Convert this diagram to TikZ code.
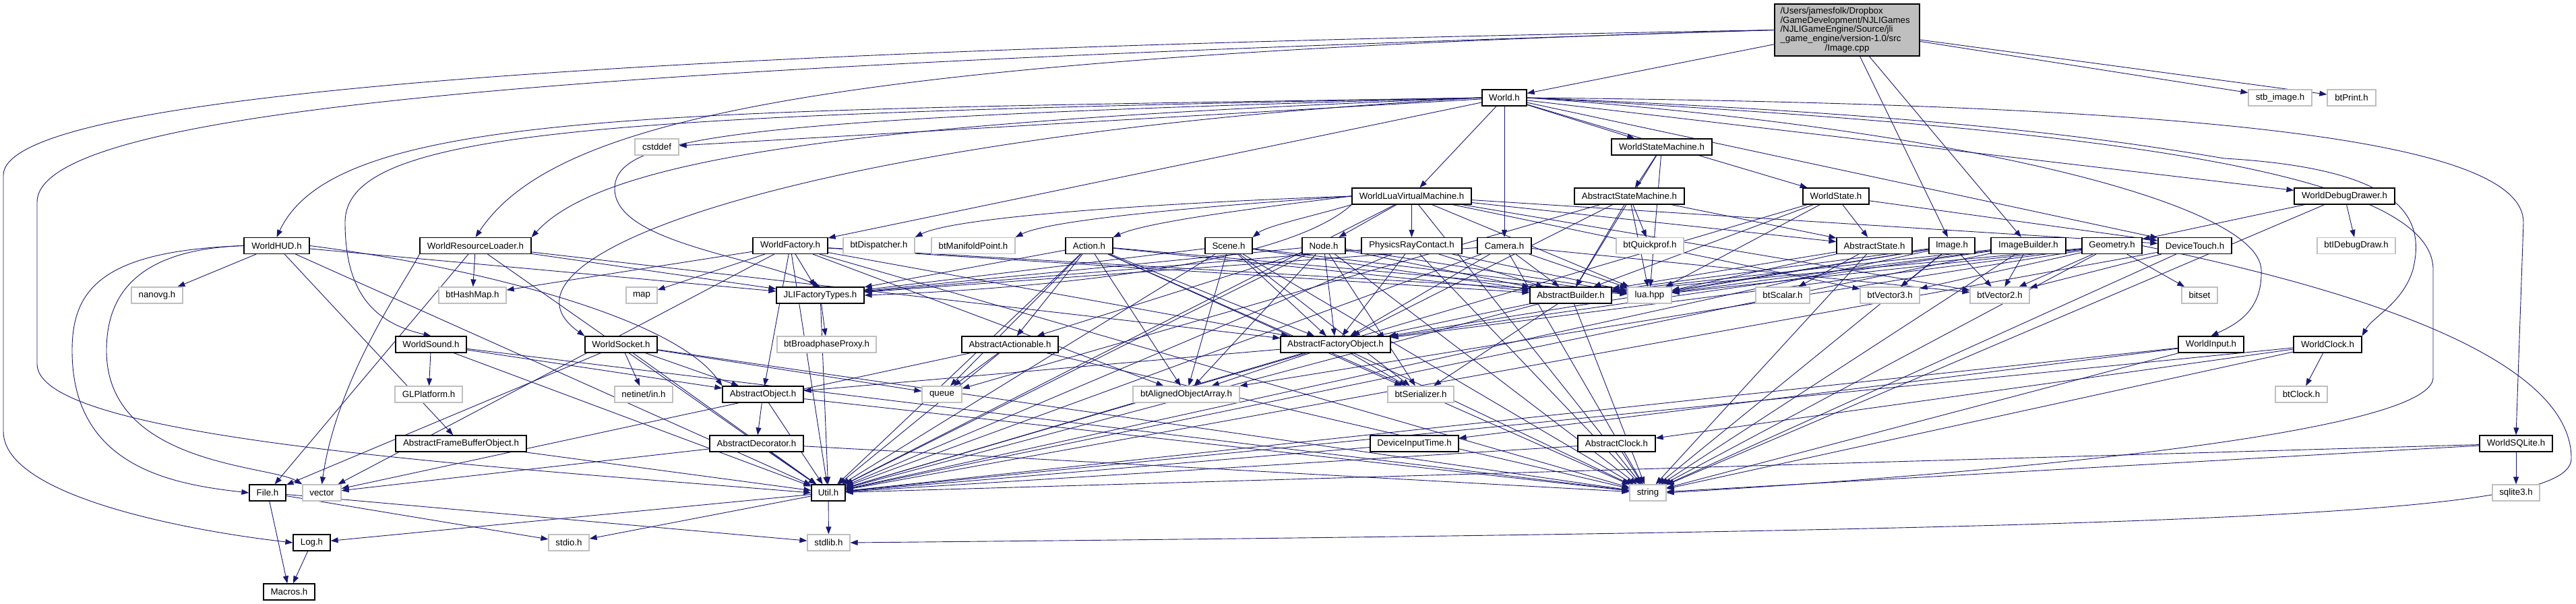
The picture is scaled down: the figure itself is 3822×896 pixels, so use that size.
\documentclass[tikz,border=0pt]{standalone}
\usepackage{fontspec}
\setmainfont{Liberation Sans}
\usetikzlibrary{arrows.meta}
\definecolor{edgeblue}{HTML}{191970}
\definecolor{extgray}{HTML}{BFBFBF}
\pgfdeclarelayer{bg}
\pgfsetlayers{bg,main}
\begin{document}
\begin{tikzpicture}[x=1pt,y=-1pt,
  every node/.style={font=\fontsize{13.3}{13.8}\selectfont},
  base/.style={rectangle, inner sep=0pt, minimum height=24pt, line width=1.2pt, fill=white, text=black},
  intn/.style={base, draw=black},
  extn/.style={base, draw=extgray},
  rootn/.style={rectangle, draw=black, fill=extgray, line width=1.2pt, text width=198pt, inner xsep=8.5pt, minimum height=77pt, align=left},
  edge/.style={draw=edgeblue, line width=0.9pt, -{Triangle[length=11pt,width=8pt]}}]
\useasboundingbox (0,0) rectangle (3822,896);
% row 0
\node[rootn] (root) at (2740.5,44.5) {/Users/jamesfolk/Dropbox\\/GameDevelopment/NJLIGames\\/NJLIGameEngine/Source/jli\\\_game\_engine/version-1.0/src\\\hspace*{\fill}/Image.cpp\hspace*{\fill}\null};
% row 1
\node[intn, minimum width=66pt] (World) at (2232,145) {World.h};
\node[extn, minimum width=94pt] (stb) at (3383,145) {stb\_image.h};
\node[extn, minimum width=72pt] (btPrint) at (3489,145) {btPrint.h};
% row 2
\node[extn, minimum width=65pt] (cstddef) at (974.5,218) {cstddef};
\node[intn, minimum width=149pt] (WSM) at (2465.5,218) {WorldStateMachine.h};
% row 3
\node[intn, minimum width=177pt] (WLVM) at (2094.5,291) {WorldLuaVirtualMachine.h};
\node[intn, minimum width=163pt] (ASM) at (2417.5,291) {AbstractStateMachine.h};
\node[intn, minimum width=98pt] (WState) at (2724,291) {WorldState.h};
\node[intn, minimum width=149pt] (WDD) at (3478.5,291) {WorldDebugDrawer.h};
% row 4
\node[intn, minimum width=97pt] (WHUD) at (410.5,364.5) {WorldHUD.h};
\node[intn, minimum width=165pt] (WRL) at (705.5,364.5) {WorldResourceLoader.h};
\node[intn, minimum width=111pt] (WFactory) at (1172.5,364.5) {WorldFactory.h};
\node[extn, minimum width=106pt] (btDispatcher) at (1304,364.5) {btDispatcher.h};
\node[extn, minimum width=124pt] (btManifold) at (1444,364.5) {btManifoldPoint.h};
\node[intn, minimum width=70pt] (Action) at (1616,364.5) {Action.h};
\node[intn, minimum width=70pt] (Scene) at (1823,364.5) {Scene.h};
\node[intn, minimum width=64pt] (NodeH) at (1964,364.5) {Node.h};
\node[intn, minimum width=149pt] (PRC) at (2094.5,364.5) {PhysicsRayContact.h};
\node[intn, minimum width=80pt] (Camera) at (2232,364.5) {Camera.h};
\node[extn, minimum width=100pt] (btQuickprof) at (2448,364.5) {btQuickprof.h};
\node[intn, minimum width=112pt] (AState) at (2781,364.5) {AbstractState.h};
\node[intn, minimum width=68pt] (ImgH) at (2896,364.5) {Image.h};
\node[intn, minimum width=111pt] (ImgB) at (3009.5,364.5) {ImageBuilder.h};
\node[intn, minimum width=89pt] (Geometry) at (3133.5,364.5) {Geometry.h};
\node[intn, minimum width=109pt] (DevTouch) at (3256.5,364.5) {DeviceTouch.h};
\node[extn, minimum width=116pt] (btIDebugDraw) at (3496,364.5) {btIDebugDraw.h};
% row 5
\node[extn, minimum width=76pt] (nanovg) at (233,438) {nanovg.h};
\node[extn, minimum width=100pt] (btHashMap) at (701,438) {btHashMap.h};
\node[extn, minimum width=46pt] (map) at (952,438) {map};
\node[intn, minimum width=130pt] (JLIFT) at (1217,438) {JLIFactoryTypes.h};
\node[intn, minimum width=121pt] (ABuilder) at (2330.5,438) {AbstractBuilder.h};
\node[extn, minimum width=65pt] (lua) at (2447.5,438) {lua.hpp};
\node[extn, minimum width=80pt] (btScalar) at (2645,438) {btScalar.h};
\node[extn, minimum width=88pt] (btVector3) at (2804,438) {btVector3.h};
\node[extn, minimum width=88pt] (btVector2) at (2967,438) {btVector2.h};
\node[extn, minimum width=53pt] (bitset) at (3263.5,438) {bitset};
% row 6
\node[intn, minimum width=105pt] (WSound) at (639.5,511) {WorldSound.h};
\node[intn, minimum width=107pt] (WSocket) at (921.5,511) {WorldSocket.h};
\node[extn, minimum width=147pt] (btBroadphase) at (1226.5,511) {btBroadphaseProxy.h};
\node[intn, minimum width=143pt] (AActionable) at (1498.5,511) {AbstractActionable.h};
\node[intn, minimum width=163pt] (AFO) at (1981.5,511) {AbstractFactoryObject.h};
\node[intn, minimum width=97pt] (WInput) at (3280.5,511) {WorldInput.h};
\node[intn, minimum width=101pt] (WClock) at (3453.5,511) {WorldClock.h};
% row 7
\node[extn, minimum width=100pt] (GLPlatform) at (636,585) {GLPlatform.h};
\node[extn, minimum width=86pt] (netinet) at (955,585) {netinet/in.h};
\node[intn, minimum width=120pt] (AObject) at (1132,585) {AbstractObject.h};
\node[extn, minimum width=59pt] (queue) at (1397.5,585) {queue};
\node[extn, minimum width=158pt] (btAligned) at (1760,585) {btAlignedObjectArray.h};
\node[extn, minimum width=98pt] (btSerializer) at (2108,585) {btSerializer.h};
\node[extn, minimum width=77pt] (btClock) at (3414.5,585) {btClock.h};
% row 8
\node[intn, minimum width=194pt] (AFBO) at (684,658) {AbstractFrameBufferObject.h};
\node[intn, minimum width=139pt] (ADecorator) at (1122.5,658) {AbstractDecorator.h};
\node[intn, minimum width=131pt] (DevInputTime) at (2098.5,658) {DeviceInputTime.h};
\node[intn, minimum width=115pt] (AClock) at (2398.5,658) {AbstractClock.h};
\node[intn, minimum width=108pt] (WSQLite) at (3733,658) {WorldSQLite.h};
% row 9
\node[intn, minimum width=54pt] (File) at (397,731) {File.h};
\node[extn, minimum width=57pt] (vector) at (477.5,731) {vector};
\node[intn, minimum width=50pt] (Util) at (1229,731) {Util.h};
\node[extn, minimum width=54pt] (string) at (2445,731) {string};
\node[extn, minimum width=70pt] (sqlite3) at (3733,731) {sqlite3.h};
% row 10
\node[intn, minimum width=55pt] (Log) at (462.5,805) {Log.h};
\node[extn, minimum width=60pt] (stdio) at (844,805) {stdio.h};
\node[extn, minimum width=63pt] (stdlib) at (1229.5,805) {stdlib.h};
% row 11
\node[intn, minimum width=76pt] (Macros) at (429,878) {Macros.h};

\begin{pgfonlayer}{bg}
\fill[white] (0,0) rectangle (3822,896);
\foreach \s/\t in {
  root/World, root/stb, root/btPrint, root/ImgH, root/ImgB,
  World/cstddef, World/WSM, World/WLVM, World/Camera, World/WState, World/WDD, World/WFactory, World/DevTouch,
  WSM/ASM, WSM/ABuilder, WSM/lua,
  ASM/btQuickprof, ASM/AState, ASM/lua, ASM/ABuilder, ASM/queue, ASM/AFO,
  WLVM/NodeH, WLVM/PRC, WLVM/lua, WLVM/AState,
  WLVM/DevTouch, WLVM/string, WLVM/btVector2, WLVM/btVector3, WLVM/Util,
  WState/AState, WState/lua, WState/ABuilder, WState/Util, WState/DevTouch,
  WDD/btIDebugDraw, WDD/Geometry, WDD/string,
  WHUD/nanovg, WHUD/Util, WHUD/AFBO, WHUD/JLIFT,
  WRL/btHashMap, WRL/JLIFT, WRL/Util, WRL/AFO, WRL/File,
  WFactory/map, WFactory/btHashMap, WFactory/JLIFT, WFactory/vector, WFactory/AObject, WFactory/Util,
  WFactory/AFO, WFactory/ABuilder, WFactory/btAligned, WFactory/string, WFactory/lua,
  Action/AActionable, Action/JLIFT, Action/AFO, Action/ABuilder, Action/lua, Action/btAligned, Action/queue,
  Action/Util, Action/string, Action/btSerializer,
  Scene/JLIFT, Scene/AFO, Scene/ABuilder, Scene/lua, Scene/btAligned, Scene/string, Scene/btSerializer, Scene/Util,
  NodeH/AActionable, NodeH/AFO, NodeH/ABuilder, NodeH/lua, NodeH/btAligned, NodeH/JLIFT, NodeH/btSerializer,
  NodeH/string, NodeH/Util,
  PRC/AFO, PRC/ABuilder, PRC/lua, PRC/JLIFT, PRC/Util, PRC/string,
  Camera/AFO, Camera/ABuilder, Camera/lua, Camera/JLIFT, Camera/btVector2, Camera/Util, Camera/string,
  AState/ABuilder, AState/lua, AState/btScalar, AState/string,
  ImgH/btVector2, ImgH/ABuilder, ImgH/lua, ImgH/AFO, ImgH/string, ImgH/Util, ImgH/btVector3,
  ImgB/ABuilder, ImgB/lua, ImgB/btVector2, ImgB/AFO, ImgB/Util, ImgB/string,
  Geometry/btVector2, Geometry/btVector3, Geometry/bitset, Geometry/lua, Geometry/ABuilder, Geometry/AFO,
  Geometry/string, Geometry/btAligned,
  DevTouch/btVector2, DevTouch/string, DevTouch/Util,
  JLIFT/btBroadphase, JLIFT/Util,
  ABuilder/AFO, ABuilder/btSerializer, ABuilder/Util, ABuilder/string,
  AFO/AObject, AFO/btAligned, AFO/btSerializer, AFO/Util, AFO/string,
  AActionable/queue, AActionable/Util, AActionable/string, AActionable/vector,
  AObject/ADecorator, AObject/Util, AObject/string,
  ADecorator/Util, ADecorator/vector, ADecorator/string,
  WSound/GLPlatform, WSound/AObject, WSound/Util, WSound/string,
  WSocket/netinet, WSocket/AObject, WSocket/queue, WSocket/File, WSocket/Util, WSocket/string,
  WInput/DevInputTime, WInput/Util, WInput/string,
  WClock/btClock, WClock/AClock, WClock/Util, WClock/string,
  WSQLite/sqlite3, WSQLite/Util, WSQLite/string,
  AFBO/Util, AClock/Util, AClock/string, DevInputTime/Util,
  File/stdio, File/stdlib, File/Macros, Log/Macros,
  Util/Log, Util/stdio, Util/stdlib}
  {\draw[edge] (\s) -- (\t);}
% curved connectors from WorldLuaVirtualMachine.h to the left
\draw[edge] (WLVM.west) .. controls (1750,300) and (1420,320) .. (btDispatcher.north east);
\draw[edge] (WLVM.west) .. controls (1800,305) and (1560,325) .. (btManifold.north east);
\draw[edge] (WLVM.west) .. controls (1850,310) and (1700,330) .. (Action.north east);
\draw[edge] (WLVM.south west) .. controls (1950,320) and (1880,335) .. (Scene.north east);
\draw[edge] (WLVM.south west) .. controls (1900,400) and (1500,430) .. (JLIFT.east);
\draw[edge] (WHUD.east) .. controls (700,395) and (1000,470) .. (AObject.north west);
% long curved connectors
\draw[edge] (root.west) .. controls (900,75) and (5,140) .. (5,260) -- (5,640) .. controls (5,740) and (300,790) .. (Log.west);
\draw[edge] (root.west) .. controls (1000,95) and (55,150) .. (55,300) -- (55,540) .. controls (55,650) and (700,690) .. (Util.west);
\draw[edge] (root.west) .. controls (1200,85) and (820,180) .. (WRL.north);
\draw[edge] (World.west) .. controls (1000,165) and (500,160) .. (WHUD.north);
\draw[edge] (World.west) .. controls (1300,180) and (900,230) .. (WRL.north east);
\draw[edge] (World.west) .. controls (900,170) and (512,190) .. (512,330) .. controls (512,440) and (560,480) .. (WSound.north);
\draw[edge] (World.west) .. controls (1200,200) and (700,380) .. (WSocket.north west);
\draw[edge] (World.west) .. controls (1100,175) and (912,200) .. (912,280) .. controls (912,360) and (1120,380) .. (JLIFT.north);
\draw[edge] (World.east) .. controls (2900,190) and (3350,300) .. (3355,400) .. controls (3357,460) and (3320,480) .. (WInput.north);
\draw[edge] (World.east) .. controls (2900,170) and (3150,210) .. (3300,235) .. controls (3560,250) and (3600,320) .. (3580,400) .. controls (3565,450) and (3520,470) .. (WClock.north east);
\draw[edge] (World.east) .. controls (3300,155) and (3744,210) .. (3744,330) -- (WSQLite.north);
\draw[edge] (World.east) .. controls (3000,185) and (3610,240) .. (3610,400) -- (3610,560) .. controls (3610,640) and (3000,700) .. (string.east);
\draw[edge] (Geometry.east) .. controls (3450,420) and (3815,520) .. (3815,680) .. controls (3815,760) and (3400,785) .. (stdlib.east);
\draw[edge] (WHUD.west) .. controls (150,372) and (107,430) .. (107,520) .. controls (107,690) and (250,718) .. (File.west);
\draw[edge] (WHUD.west) .. controls (200,370) and (158,440) .. (158,520) .. controls (158,690) and (400,690) .. (vector.north west);
\draw[edge] (WRL.south west) .. controls (600,420) and (500,560) .. (vector.north);
\end{pgfonlayer}
\end{tikzpicture}
\end{document}
